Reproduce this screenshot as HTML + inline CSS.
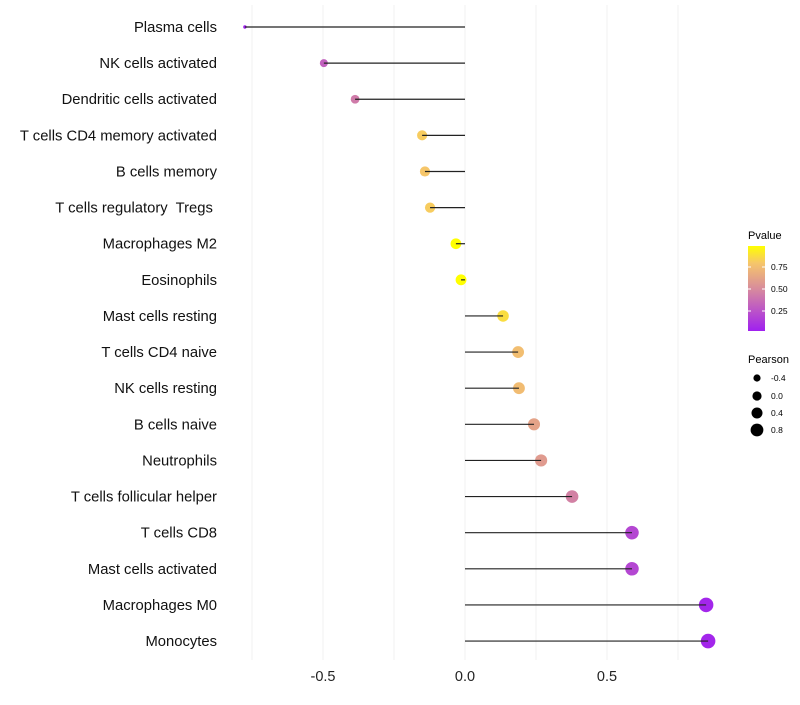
<!DOCTYPE html>
<html><head><meta charset="utf-8"><style>
body{margin:0;background:#fff;font-family:"Liberation Sans",sans-serif;}
text{white-space:pre;}
</style></head><body>
<svg id="chart" width="800" height="700" xmlns="http://www.w3.org/2000/svg">
<defs><linearGradient id="pg" x1="0" y1="1" x2="0" y2="0">
<stop offset="0" stop-color="#a020f0"/><stop offset="0.5" stop-color="#d88c9c"/><stop offset="0.8" stop-color="#f6c66a"/><stop offset="1" stop-color="#ffff00"/></linearGradient></defs>
<g id="grid"></g><g id="marks"></g><g id="labels"></g>
<g>
<text x="748" y="239" font-size="11">Pvalue</text>
<rect x="748" y="246" width="17" height="85" fill="url(#pg)"/>
<line x1="748" x2="751" y1="267" y2="267" stroke="#fff"/><line x1="762" x2="765" y1="267" y2="267" stroke="#fff"/>
<line x1="748" x2="751" y1="289" y2="289" stroke="#fff"/><line x1="762" x2="765" y1="289" y2="289" stroke="#fff"/>
<line x1="748" x2="751" y1="311" y2="311" stroke="#fff"/><line x1="762" x2="765" y1="311" y2="311" stroke="#fff"/>
<text x="771" y="270" font-size="8.5">0.75</text><text x="771" y="292" font-size="8.5">0.50</text><text x="771" y="314" font-size="8.5">0.25</text>
</g>
<g>
<text x="748" y="363" font-size="11">Pearson</text>
<circle cx="757" cy="378" r="3.6"/><text x="771" y="381" font-size="8.5">-0.4</text>
<circle cx="757" cy="396" r="4.6"/><text x="771" y="399" font-size="8.5">0.0</text>
<circle cx="757" cy="413" r="5.5"/><text x="771" y="416" font-size="8.5">0.4</text>
<circle cx="757" cy="430" r="6.4"/><text x="771" y="433" font-size="8.5">0.8</text>
</g>
</svg>
<script>
const categories=["Plasma cells","NK cells activated","Dendritic cells activated","T cells CD4 memory activated","B cells memory","T cells regulatory  Tregs ","Macrophages M2","Eosinophils","Mast cells resting","T cells CD4 naive","NK cells resting","B cells naive","Neutrophils","T cells follicular helper","T cells CD8","Mast cells activated","Macrophages M0","Monocytes"];
const pearson=[-0.775,-0.497,-0.387,-0.151,-0.141,-0.123,-0.032,-0.014,0.134,0.187,0.19,0.243,0.268,0.377,0.588,0.588,0.849,0.856];
const pvalues=[0.0,0.3,0.42,0.82,0.8,0.82,1.0,1.0,0.88,0.76,0.75,0.62,0.58,0.45,0.18,0.18,0.03,0.03];
const xTicks=[-0.5,0,0.5];
const xTickLabels=["-0.5","0.0","0.5"];
const NS="http://www.w3.org/2000/svg";
const xs=v=>465+v*284;
const ys=i=>27+i*36.12;
const rs=v=>Math.sqrt(v<-0.5?Math.max(2.9,2.9+(v+0.775)/0.275*13.1):16+27.3*(v+0.5));
const stops=[[0,[160,32,240]],[0.5,[216,140,156]],[0.8,[246,198,106]],[1,[255,255,0]]];
function col(p){for(let i=1;i<stops.length;i++){if(p<=stops[i][0]){const a=stops[i-1],b=stops[i],t=(p-a[0])/(b[0]-a[0]);return "rgb("+a[1].map((c,k)=>Math.round(c+(b[1][k]-c)*t)).join(",")+")";}}return "rgb(255,255,0)";}
function mk(t,a,p){const e=document.createElementNS(NS,t);for(const k in a)e.setAttribute(k,a[k]);p.appendChild(e);return e;}
const grid=document.getElementById('grid'),marks=document.getElementById('marks'),labels=document.getElementById('labels');
[-0.75,-0.5,-0.25,0,0.25,0.5,0.75].forEach(v=>{const l=mk('line',{x1:xs(v),x2:xs(v),y1:5,y2:660,stroke:'#f0f0f0','stroke-width':1},grid);

});
xTicks.forEach((v,i)=>{const t=mk('text',{x:xs(v),y:681,'font-size':14.5,'text-anchor':'middle',fill:'#222'},labels);t.textContent=xTickLabels[i];

});
categories.forEach((c,i)=>{const y=ys(i);
const t=mk('text',{x:217,y:y+5,'font-size':14.8,'text-anchor':'end',fill:'#111'},labels);t.textContent=c;


const d=mk('circle',{cx:xs(pearson[i]),cy:y,r:rs(pearson[i]),fill:col(pvalues[i])},marks);


const l=mk('line',{x1:xs(0),x2:xs(pearson[i]),y1:y,y2:y,stroke:'#222','stroke-width':1.2},marks);

});
</script>
</body></html>
